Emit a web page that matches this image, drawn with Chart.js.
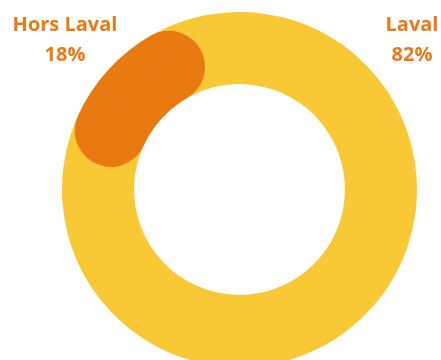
<!DOCTYPE html>
<html lang="fr">
<head>
<meta charset="UTF-8">
<title>Provenance</title>
<script src="https://cdn.jsdelivr.net/npm/chart.js@4.4.0/dist/chart.umd.min.js"></script>
<style>
  html, body { margin: 0; padding: 0; background: #fff; }
  body { width: 441px; height: 360px; overflow: hidden; position: relative; }
  .ring { position: absolute; left: 62px; top: 12px; width: 355px; height: 355px; }
  .lbl {
    position: absolute; top: 9px; width: 140px;
    font-family: "Open Sans", sans-serif; font-weight: 700; font-size: 20px;
    line-height: 30px; color: #E97A16; text-align: center;
  }
</style>
</head>
<body>
<div class="ring"><canvas id="track"></canvas></div>
<div class="ring"><canvas id="part"></canvas></div>
<div class="lbl" id="lblHors" style="left:-5px"></div>
<div class="lbl" id="lblLaval" style="left:342px"></div>

<script>
const labels = ['Laval', 'Hors Laval'];
const values = [82, 18];

const yellow = '#F9C835';
const orange = '#E97A12';

// labels in the top corners
document.getElementById('lblLaval').innerHTML = labels[0] + '<br>' + values[0] + '%';
document.getElementById('lblHors').innerHTML = labels[1] + '<br>' + values[1] + '%';

const base = {
  responsive: true,
  maintainAspectRatio: false,
  animation: false,
  events: [],
  cutout: '59.4%',
  rotation: -15.3,
  layout: { padding: 0 },
  plugins: { legend: { display: false }, tooltip: { enabled: false } }
};

// full yellow track (total of both parts)
new Chart(document.getElementById('track'), {
  type: 'doughnut',
  data: {
    labels: ['Total'],
    datasets: [{
      data: [values[0] + values[1]],
      backgroundColor: [yellow],
      borderWidth: 0, hoverOffset: 0, offset: 0
    }]
  },
  options: base
});

// orange part with rounded ends on top of the track
new Chart(document.getElementById('part'), {
  type: 'doughnut',
  data: {
    labels: labels,
    datasets: [{
      data: values,
      backgroundColor: ['rgba(0,0,0,0)', orange],
      borderWidth: 0, hoverOffset: 0, offset: 0,
      borderRadius: [0, 100]
    }]
  },
  options: base
});
</script>
</body>
</html>
